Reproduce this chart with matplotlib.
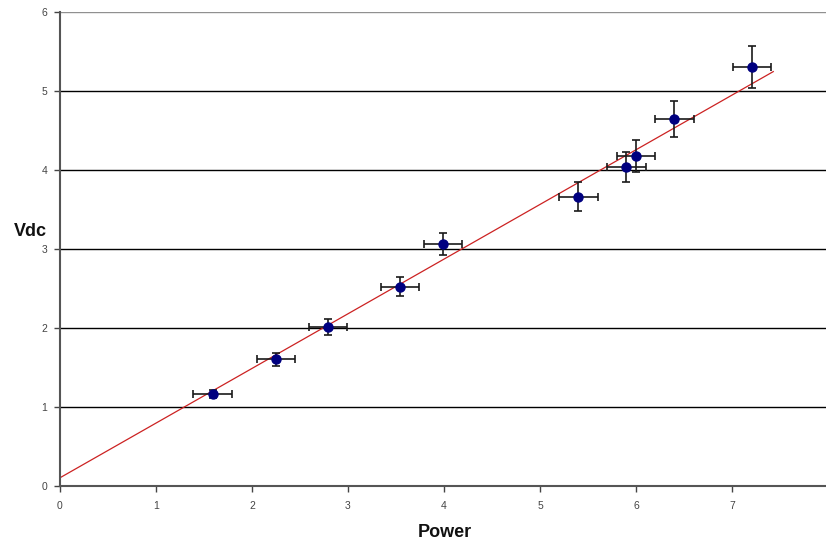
import numpy as np
import matplotlib.pyplot as plt

plt.rcParams['font.family'] = ['Liberation Sans', 'DejaVu Sans']

# measured power vs DC voltage
power = [1.59, 2.25, 2.79, 3.54, 3.99, 5.40, 5.90, 6.00, 6.40, 7.21]
vdc = [1.16, 1.60, 2.01, 2.52, 3.06, 3.66, 4.04, 4.17, 4.64, 5.30]
power_err = [0.2, 0.2, 0.2, 0.2, 0.2, 0.2, 0.2, 0.2, 0.2, 0.2]
vdc_err = [0.05, 0.08, 0.10, 0.12, 0.14, 0.18, 0.19, 0.20, 0.23, 0.26]

# linear trendline coefficients and extent
trend_slope = 0.692
trend_icpt = 0.10
trend_x = [0, 7.43]

fig = plt.figure(figsize=(8.26, 5.44), dpi=100)
ax = fig.add_axes([0.0726, 0.1072, 0.9298, 0.8713])

# horizontal gridlines
for y in range(1, 6):
    ax.axhline(y, color='black', lw=1.0, zorder=1)
ax.axhline(6, color='#909090', lw=1.0, zorder=1)

xs = np.array(trend_x)
ax.plot(xs, trend_slope * xs + trend_icpt, color='#cc2222', lw=0.9, zorder=2)

ax.errorbar(power, vdc, xerr=power_err, yerr=vdc_err, fmt='o',
            color='#000080', ms=6.5, ecolor='#1a1a1a', elinewidth=1.2,
            capsize=3, capthick=1.2, zorder=3)

ax.set_xlim(0, 8)
ax.set_ylim(0, 6)
ax.set_xticks(range(0, 9))
ax.set_yticks(range(0, 7))
ax.tick_params(labelsize=7.5, colors='#444444', length=4, width=1)
ax.tick_params(axis='x', pad=7)
ax.tick_params(axis='y', pad=5)

for side in ['top', 'right']:
    ax.spines[side].set_visible(False)
for side in ['left', 'bottom']:
    ax.spines[side].set_color('#555555')
    ax.spines[side].set_linewidth(1.5)

ax.set_xlabel('Power', fontsize=13, fontweight='bold', color='#111111')
ax.set_ylabel('Vdc', fontsize=13, fontweight='bold', rotation=0, color='#111111')
ax.xaxis.label.set_va('center')
ax.yaxis.label.set_va('center')
ax.yaxis.label.set_ha('center')
ax.xaxis.set_label_coords(0.501, -0.098)
ax.yaxis.set_label_coords(-0.039, 0.537)

fig.savefig('out.png', dpi=100)
